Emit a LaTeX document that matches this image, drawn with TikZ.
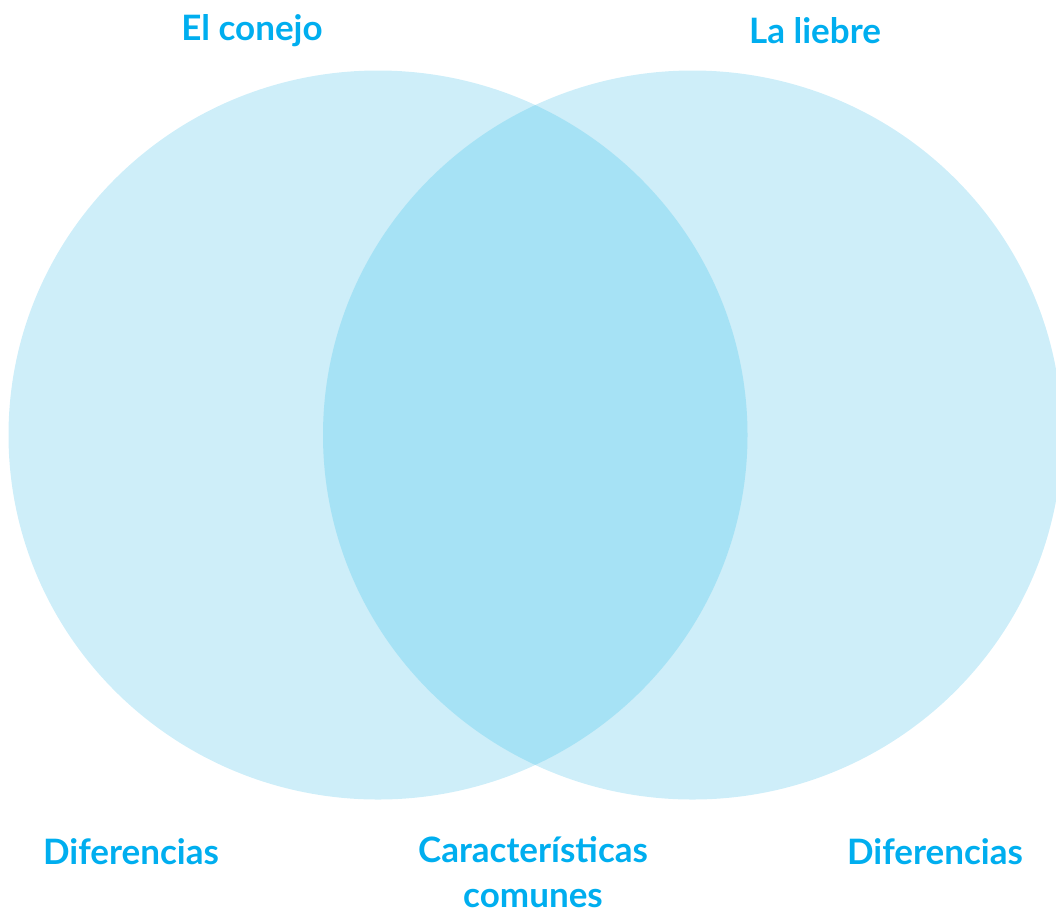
\documentclass[tikz,border=0pt]{standalone}
\usepackage{fontspec}
\setmainfont{Lato}
\definecolor{titleblue}{HTML}{00AEEF}
\definecolor{circlight}{HTML}{CEEEF9}
\definecolor{circdark}{HTML}{A6E2F5}
\tikzset{
  label/.style={text=titleblue, font=\fontsize{35}{45}\selectfont\bfseries, inner sep=0pt, align=center},
}
\begin{document}
\begin{tikzpicture}[x=1pt,y=-1pt]
\useasboundingbox (0,0) rectangle (1056,914);
\coordinate (lc) at (378,435);
\coordinate (rc) at (692.5,435);
\fill[circlight] (lc) ellipse[x radius=369.5, y radius=364.5];
\fill[circlight] (rc) ellipse[x radius=369.5, y radius=364.5];
\begin{scope}
  \clip (lc) ellipse[x radius=369.5, y radius=364.5];
  \fill[circdark] (rc) ellipse[x radius=369.5, y radius=364.5];
\end{scope}
\node[label] (t1) at (252,31) {El conejo};
\node[label] (t2) at (815,31) {La liebre};
\node[label] (d1) at (131,852) {Diferencias};
\node[label] (cc) at (533,872) {Características\\comunes};
\node[label] (d2) at (935,852) {Diferencias};
\end{tikzpicture}
\end{document}
